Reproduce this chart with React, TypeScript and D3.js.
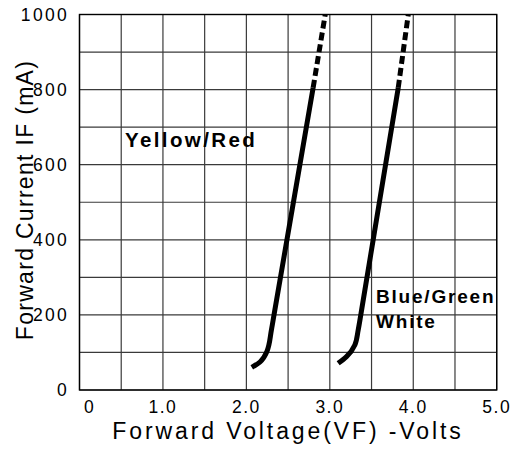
import * as d3 from 'd3';
import { useEffect, useRef } from 'react';

// Forward voltage (V) vs forward current (mA)
const yellowSolidV = [2.065, 2.165, 2.245, 2.3, 2.335, 2.8];
const yellowSolidI = [60, 75, 102, 160, 205, 805];
const yellowDashV = [2.8, 2.945];
const yellowDashI = [805, 1000];

const blueSolidV = [3.1, 3.2, 3.3, 3.34, 3.375, 3.82];
const blueSolidI = [71, 89, 120, 160, 205, 805];
const blueDashV = [3.82, 3.94];
const blueDashI = [805, 1000];

const xTicks = [0, 1, 2, 3, 4, 5];
const xTickLabels = ['0', '1.0', '2.0', '3.0', '4.0', '5.0'];
const yTicks = [0, 200, 400, 600, 800, 1000];

const FONT = '"Liberation Sans", Arial, sans-serif';

export default function App() {
  const ref = useRef<SVGSVGElement | null>(null);
  useEffect(() => {
    if (!ref.current) return;
    const svg = d3.select(ref.current);
    svg.selectAll('*').remove();
    const width = 515;
    const height = 456;
    const margin = { top: 14.5, right: 18.3, bottom: 66, left: 79.5 };
    const innerW = width - margin.left - margin.right;
    const innerH = height - margin.top - margin.bottom;

    const x = d3.scaleLinear().domain([0, 5]).range([margin.left, margin.left + innerW]);
    const y = d3.scaleLinear().domain([0, 1000]).range([margin.top + innerH, margin.top]);

    const grid = svg.append('g').attr('stroke', '#3a3a3a').attr('stroke-width', 1.2);
    grid
      .selectAll('line.v')
      .data(d3.range(0, 5.01, 0.5))
      .enter()
      .append('line')
      .attr('x1', (d) => x(d))
      .attr('x2', (d) => x(d))
      .attr('y1', y(0))
      .attr('y2', y(1000));
    grid
      .selectAll('line.h')
      .data(d3.range(0, 1001, 100))
      .enter()
      .append('line')
      .attr('x1', x(0))
      .attr('x2', x(5))
      .attr('y1', (d) => y(d))
      .attr('y2', (d) => y(d));

    svg
      .append('rect')
      .attr('x', x(0))
      .attr('y', y(1000))
      .attr('width', innerW)
      .attr('height', innerH)
      .attr('fill', 'none')
      .attr('stroke', '#000')
      .attr('stroke-width', 1.4);

    const line = d3
      .line<[number, number]>()
      .x((d) => x(d[0]))
      .y((d) => y(d[1]))
      .curve(d3.curveMonotoneY);

    const curves = [
      { v: yellowSolidV, i: yellowSolidI, dash: null },
      { v: yellowDashV, i: yellowDashI, dash: '8,4' },
      { v: blueSolidV, i: blueSolidI, dash: null },
      { v: blueDashV, i: blueDashI, dash: '8,4' },
    ];
    curves.forEach((c) => {
      const pts = c.v.map((v, k) => [v, c.i[k]] as [number, number]);
      svg
        .append('path')
        .attr('d', line(pts))
        .attr('fill', 'none')
        .attr('stroke', '#000')
        .attr('stroke-width', 5)
        .attr('stroke-dasharray', c.dash);
    });

    // tick labels
    svg
      .append('g')
      .selectAll('text')
      .data(xTicks)
      .enter()
      .append('text')
      .attr('x', (d) => x(d) + (d === 0 ? 10 : 0))
      .attr('y', 413)
      .attr('text-anchor', 'middle')
      .attr('font-family', FONT)
      .attr('font-size', 17.5)
      .attr('letter-spacing', 1.5)
      .text((d, k) => xTickLabels[k]);

    svg
      .append('g')
      .selectAll('text')
      .data(yTicks)
      .enter()
      .append('text')
      .attr('x', 69)
      .attr('y', (d) => y(d) + 6.3)
      .attr('text-anchor', 'end')
      .attr('font-family', FONT)
      .attr('font-size', 17.5)
      .attr('letter-spacing', 2.3)
      .text((d) => String(d));

    svg
      .append('text')
      .attr('x', 288)
      .attr('y', 439)
      .attr('text-anchor', 'middle')
      .attr('font-family', FONT)
      .attr('font-size', 23)
      .attr('letter-spacing', 2.9)
      .text('Forward Voltage(VF) -Volts');

    svg
      .append('text')
      .attr('transform', 'translate(33,200) rotate(-90)')
      .attr('text-anchor', 'middle')
      .attr('font-family', FONT)
      .attr('font-size', 23)
      .attr('letter-spacing', 1.3)
      .text('Forward Current IF (mA)');

    const labels = [
      { t: 'Yellow/Red', x: 125, y: 147 },
      { t: 'Blue/Green', x: 376, y: 303 },
      { t: 'White', x: 376, y: 328 },
    ];
    svg
      .append('g')
      .selectAll('text')
      .data(labels)
      .enter()
      .append('text')
      .attr('x', (d) => d.x)
      .attr('y', (d) => d.y)
      .attr('font-family', FONT)
      .attr('font-weight', 'bold')
      .attr('font-size', (d) => (d.t === 'Yellow/Red' ? 20.5 : 19))
      .attr('letter-spacing', (d) => (d.t === 'Yellow/Red' ? 2.4 : 1.8))
      .text((d) => d.t);
  }, []);

  return (
    <svg
      ref={ref}
      width={515}
      height={456}
      style={{ position: 'absolute', left: 0, top: 0, background: '#fff' }}
    />
  );
}
